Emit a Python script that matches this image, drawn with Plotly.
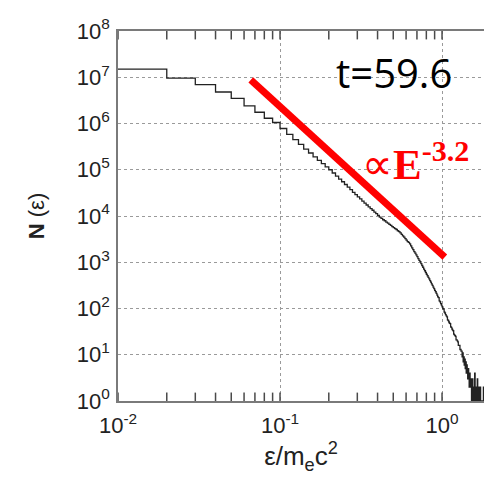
import numpy as np
import plotly.graph_objects as go

# Energy histogram: linear bins of width 0.01 in eps/(m_e c^2), starting at 0.01
bin_start = 0.01
bin_width = 0.01
counts = [
    15000000, 9600000, 6900000, 4800000, 3500000, 2400000, 1750000, 1300000, 1050000,   # 0.01-0.09
    780000, 580000, 450000, 355000, 280000, 230000, 190000, 160000, 135000, 115000,      # 0.10-0.19
    100000, 85000, 73000, 63000, 55000, 48000, 42000, 37000, 32500, 29000,               # 0.20-0.29
    26000, 23500, 21000, 19000, 17300, 15800, 14500, 13300, 12100, 11200,                # 0.30-0.39
    10300, 9500, 8900, 8300, 7900, 7400, 7000, 6600, 6300, 5900,                         # 0.40-0.49
    5600, 5350, 5100, 4800, 4600, 4300, 4000, 3700, 3500, 3250,                          # 0.50-0.59
    3000, 2800, 2700, 2500, 2250, 2050, 1870, 1700, 1570, 1440,                          # 0.60-0.69
    1320, 1200, 1100, 1030, 935, 850, 780, 710, 655, 600,                                # 0.70-0.79
    550, 510, 470, 435, 400, 370, 340, 315, 290, 270,                                    # 0.80-0.89
    247, 230, 213, 195, 178, 172, 146, 140, 128, 118,                                    # 0.90-0.99
    109, 100, 97, 84, 80, 74, 69, 66, 57, 55,                                            # 1.00-1.09
    51, 48, 47, 40, 39, 36, 34, 33, 28, 27,                                              # 1.10-1.19
    26, 25, 21, 21, 20, 19, 16, 16, 16, 13,                                              # 1.20-1.29
    13, 12, 12, 9, 11, 7, 9, 6, 8, 5,                                                    # 1.30-1.39
    7, 4, 6, 5, 3, 5, 4, 2, 4, 3,                                                        # 1.40-1.49
    2, 3, 1, 2, 3, 1, 0, 2, 1, 4,                                                        # 1.50-1.59
    0, 1, 2, 0, 1, 3, 0, 1, 2, 0,                                                        # 1.60-1.69
    1, 0, 2, 1, 0, 1, 0, 0, 1, 0,                                                        # 1.70-1.79
    2, 0, 1,                                                                             # 1.80-1.82
]

# Power-law guide N ∝ E^-3.2
fit_index = -3.2
fit_norm = 1.46e3          # value of the guide at E = 1
fit_span = [0.066, 1.04]

x_tick_exps = [-2, -1, 0]
y_tick_exps = [0, 1, 2, 3, 4, 5, 6, 7, 8]
time_label = "t=59.6"

# Build the stepped outline; empty bins are pushed below the axis floor
edges = bin_start + bin_width * np.arange(len(counts) + 1)
vals = np.array(counts, dtype=float)
vals[vals == 0] = 1e-3
step_x = edges
step_y = np.append(vals, vals[-1])

fit_E = np.array(fit_span)
fit_N = fit_norm * fit_E ** fit_index

x_range = [-2, 0.259]
y_range = [0, 8]
axis_gray = "#7a7a7a"
grid_gray = "#9a9a9a"
tick_font = dict(family="Liberation Sans, Arial", size=22, color="#222222")

# Log ticks (decades and 2..9 within each decade) along the bottom and top frame
# lines; markers centred on the frame are clipped so only the inner half shows
tick_pos = [m * 10.0 ** k for k in x_tick_exps for m in range(1, 10)]
frame_y = [10.0 ** y_range[0], 10.0 ** y_range[1]]
tick_x = [x for x in tick_pos for _ in frame_y]
tick_y = [y for _ in tick_pos for y in frame_y]

fig = go.Figure()
fig.add_trace(go.Scatter(
    x=tick_x, y=tick_y, mode="markers", cliponaxis=True,
    marker=dict(symbol="line-ns", size=12, color="#4a4a4a",
                line=dict(color="#4a4a4a", width=1.5)),
    hoverinfo="skip", showlegend=False,
))
fig.add_trace(go.Scatter(
    x=step_x, y=step_y, mode="lines",
    line=dict(shape="hv", color="#222222", width=1.3),
    hoverinfo="skip", showlegend=False,
))
fig.add_trace(go.Scatter(
    x=fit_E, y=fit_N, mode="lines",
    line=dict(color="#ff0000", width=7),
    hoverinfo="skip", showlegend=False,
))

fig.update_layout(
    width=484, height=479,
    margin=dict(l=118, r=0, t=31, b=78),
    paper_bgcolor="white", plot_bgcolor="white",
    xaxis=dict(
        type="log", range=x_range,
        tickmode="array",
        tickvals=[10.0 ** k for k in x_tick_exps],
        ticktext=[f"10<sup>{k}</sup>" for k in x_tick_exps],
        tickfont=tick_font, ticklabelstandoff=4,
        showgrid=True, gridcolor=grid_gray, griddash="dot", gridwidth=1,
        showline=True, linecolor=axis_gray, linewidth=1.5, mirror=True,
        ticks="", zeroline=False,
        title=dict(text="ε/m<sub>e</sub>c<sup>2</sup>",
                   font=dict(family="Liberation Sans, Arial", size=26, color="#222222"),
                   standoff=10),
    ),
    yaxis=dict(
        type="log", range=y_range,
        tickvals=[10.0 ** k for k in y_tick_exps],
        ticktext=[f"10<sup>{k}</sup>" for k in y_tick_exps],
        tickfont=tick_font,
        showgrid=True, gridcolor=grid_gray, griddash="dot", gridwidth=1,
        showline=True, linecolor=axis_gray, linewidth=1.5, mirror=False,
        ticks="", ticklabelstandoff=2,
        zeroline=False,
        title=dict(text="<b>N</b> (ε)",
                   font=dict(family="Liberation Sans, Arial", size=22, color="#222222"),
                   standoff=26),
    ),
    annotations=[
        dict(text=time_label, xref="paper", yref="paper", x=0.753, y=0.889,
             xanchor="center", yanchor="middle", showarrow=False,
             font=dict(family="Open Sans", size=40, color="black")),
        dict(text="∝<b>E<sup>-3.2</sup></b>", xref="paper", yref="paper", x=0.66, y=0.648,
             xanchor="left", yanchor="middle", showarrow=False,
             font=dict(family="Liberation Serif, Times New Roman", size=43, color="#ff0000")),
    ],
)

fig.write_html("out.html")
